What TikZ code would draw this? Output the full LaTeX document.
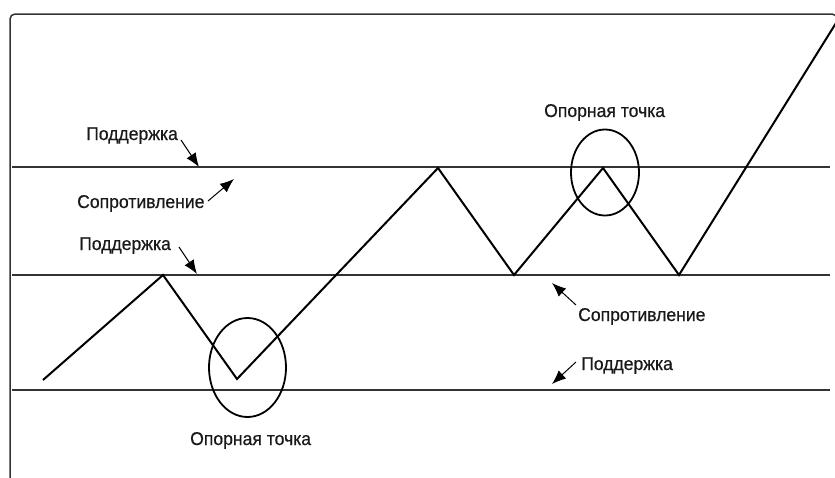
\documentclass[tikz,border=0pt]{standalone}
\usepackage{fontspec}
\setmainfont{Liberation Sans}[FakeStretch=0.95,FakeBold=0.6]
\usetikzlibrary{arrows.meta}
\begin{document}
\begin{tikzpicture}[x=1pt,y=-1pt,
  lbl/.style={font=\fontsize{18.5}{20}\selectfont, inner sep=0pt, anchor=base west, text=black!90},
  ptr/.style={line width=1pt, -{Latex[length=14pt,width=11pt]}},
  level/.style={line width=1.2pt, black!80},
  price/.style={line width=2pt, line join=miter},
  pivot/.style={line width=1.8pt},
  frame/.style={line width=1.5pt, black!80, rounded corners=5pt}]
\useasboundingbox (0,0) rectangle (835,477);
% frame
\draw[frame] (10,480) -- (10,14) -- (837,14) -- (837,40);
% levels
\draw[level] (12,167) -- (830,167);
\draw[level] (12,275) -- (830,275);
\draw[level] (12,390) -- (830,390);
% price path
\coordinate (q0) at (43,380);
\coordinate (q1) at (163,275);
\coordinate (q2) at (237,379);
\coordinate (q3) at (438,168);
\coordinate (q4) at (514,275);
\coordinate (q5) at (603,168);
\coordinate (q6) at (679,275);
\coordinate (q7) at (836,23);
\draw[price] (q0) -- (q1) -- (q2) -- (q3) -- (q4) -- (q5) -- (q6) -- (q7);
% pivot circles
\draw[pivot] (605,172.5) ellipse [x radius=34pt, y radius=43pt];
\draw[pivot] (247.5,367.5) ellipse [x radius=38.5pt, y radius=49.5pt];
% labels
\node[lbl] (s1) at (86,140) {Поддержка};
\node[lbl] (r1) at (77,208) {Сопротивление};
\node[lbl] (s2) at (79,250) {Поддержка};
\node[lbl] (r2) at (578,321) {Сопротивление};
\node[lbl] (s3) at (581,370) {Поддержка};
\node[lbl] (p1) at (544,117) {Опорная точка};
\node[lbl] (p2) at (190,445) {Опорная точка};
% arrows
\coordinate (t1) at (181,140); \coordinate (h1) at (199,167);
\coordinate (t2) at (208,201); \coordinate (h2) at (234,179);
\coordinate (t3) at (179,247); \coordinate (h3) at (197,274);
\coordinate (t4) at (576,305); \coordinate (h4) at (552,283);
\coordinate (t5) at (576,362); \coordinate (h5) at (552,384);
\draw[ptr] (t1) -- (h1);
\draw[ptr] (t2) -- (h2);
\draw[ptr] (t3) -- (h3);
\draw[ptr] (t4) -- (h4);
\draw[ptr] (t5) -- (h5);
\end{tikzpicture}
\end{document}
